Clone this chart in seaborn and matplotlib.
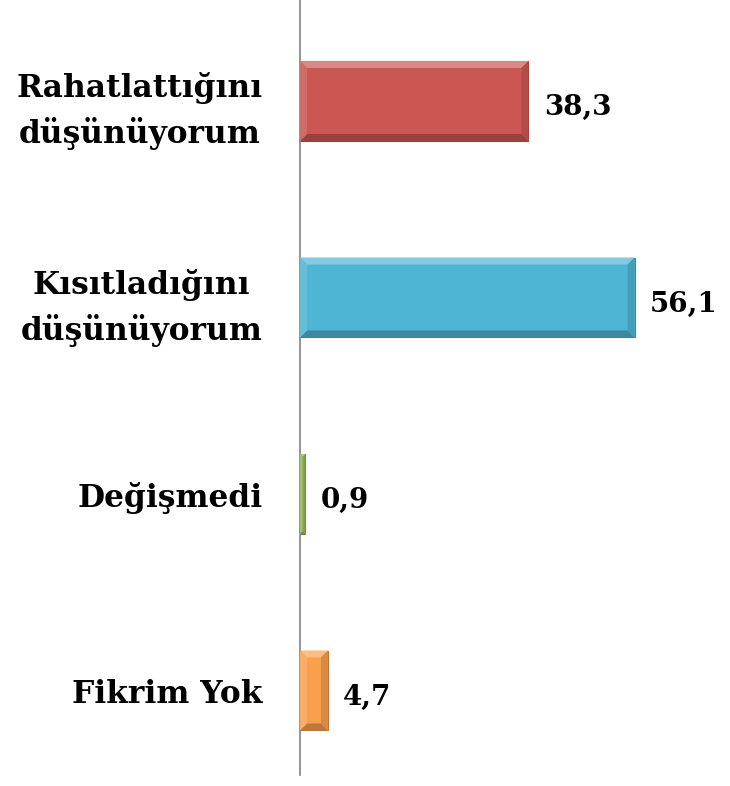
import matplotlib
matplotlib.use("Agg")
import matplotlib.pyplot as plt
import seaborn as sns
import pandas as pd
from matplotlib.patches import Polygon
import matplotlib.colors as mcolors

categories = ["Rahatlattığını\ndüşünüyorum", "Kısıtladığını\ndüşünüyorum", "Değişmedi", "Fikrim Yok"]
values = [38.3, 56.1, 0.9, 4.7]
value_labels = ["38,3", "56,1", "0,9", "4,7"]
colors = ["#CB5753", "#4FB5D4", "#97B65A", "#F9A04F"]

sns.set_theme(style="white")
plt.rcParams['font.family'] = ['DejaVu Serif']

df = pd.DataFrame({"cat": categories, "val": values})

fig = plt.figure(figsize=(7.30, 7.86), dpi=100)
ax = fig.add_axes([300/730, 11/786, 430/730, 775/786])
sns.barplot(data=df, y="cat", x="val", hue="cat", palette=colors, orient="h",
            width=0.407, dodge=False, legend=False, ax=ax, saturation=1)

ax.set_xlim(0, 72.1)
ax.set_ylim(3.43, -0.514)

fig.canvas.draw()
to_px = ax.transData
inv = ax.transData.inverted()
for i, (p, c) in enumerate(zip(ax.patches, colors)):
    x0, y0 = p.get_x(), p.get_y()
    w, h = p.get_width(), p.get_height()
    (px0, py0) = to_px.transform((x0, y0))
    (px1, py1) = to_px.transform((x0 + w, y0 + h))
    top, bot = max(py0, py1), min(py0, py1)
    left, right = min(px0, px1), max(px0, px1)
    b = min(7, (right - left) / 2.5, (top - bot) / 2)
    base = mcolors.to_rgb(c)
    light = tuple(min(1, v + (1 - v) * 0.3) for v in base)
    dark = tuple(v * 0.75 for v in base)
    mid_dark = tuple(v * 0.87 for v in base)
    def poly(pts, col):
        dpts = inv.transform(pts)
        ax.add_patch(Polygon(dpts, closed=True, facecolor=col, edgecolor='none', zorder=3))
    poly([(left, top), (right, top), (right - b, top - b), (left + b, top - b)], light)
    poly([(left, bot), (right, bot), (right - b, bot + b), (left + b, bot + b)], dark)
    poly([(right, top), (right, bot), (right - b, bot + b), (right - b, top - b)], mid_dark)
    poly([(left, top), (left, bot), (left + b, bot + b), (left + b, top - b)],
         tuple(min(1, v + (1 - v) * 0.12) for v in base))
    p.set_edgecolor(dark)
    p.set_linewidth(0.8)
    p.set_zorder(2)
    ax.annotate(value_labels[i], xy=(x0 + w, y0 + h / 2), xytext=(11, -5),
                textcoords="offset points", ha="left", va="center",
                fontsize=20, fontweight="bold", color="black")

ax.set_xlabel("")
ax.set_ylabel("")
ax.set_xticks([])
ax.tick_params(axis="y", length=0, pad=27)
for lbl in ax.get_yticklabels():
    lbl.set_fontsize(22.5)
    lbl.set_fontweight("bold")
    lbl.set_color("black")
    lbl.set_multialignment("center")
    lbl.set_linespacing(1.5)
for s in ["top", "right", "bottom"]:
    ax.spines[s].set_visible(False)
ax.spines["left"].set_color("#8C8C8C")
ax.spines["left"].set_linewidth(1.3)
ax.set_facecolor("none")

fig.savefig("out.png", dpi=100)
